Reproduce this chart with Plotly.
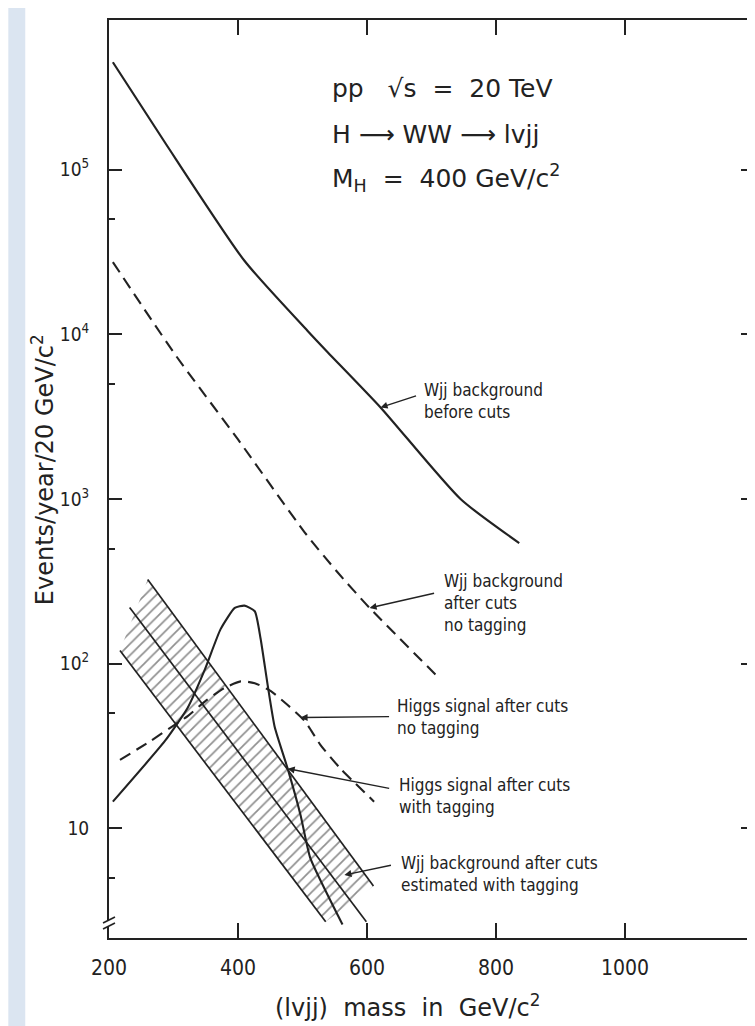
import math
import plotly.graph_objects as go

# ---------------- data ----------------
bg_before_x = [206, 287, 410, 508, 539, 621, 745, 836]
bg_before_y = [4.5e5, 1.46e5, 2.8e4, 1.05e4, 7.8e3, 3.6e3, 1.0e3, 540]

bg_notag_x = [206, 304, 400, 503, 554, 604, 714]
bg_notag_y = [2.75e4, 7.4e3, 2300, 630, 360, 218, 80]

higgs_tag_x = [206, 287, 322, 349, 373, 395, 410, 426, 435, 446, 457, 477, 497, 512, 562]
higgs_tag_y = [14.5, 34, 54, 93, 162, 218, 225, 208, 142, 74, 41, 23, 12, 6.6, 2.6]

higgs_notag_x = [217, 265, 296, 322, 349, 379, 404, 426, 451, 477, 503, 528, 559, 611]
higgs_notag_y = [26, 34, 41, 48, 59, 71, 78, 76, 68, 56, 45, 32, 23, 14.5]

band_low_x = [217, 536]      # lower/left edge of the tagged-background band
band_low_y = [120, 2.7]
band_high_x = [260, 610]     # upper/right edge
band_high_y = [324, 4.45]
band_mid_x = [232, 599]      # central estimate
band_mid_y = [219, 2.7]

x_ticks = [200, 400, 600, 800, 1000]
y_ticks = [10, 100, 1e3, 1e4, 1e5]
y_ticktext = ["10", "10<sup>2</sup>", "10<sup>3</sup>", "10<sup>4</sup>", "10<sup>5</sup>"]
y_minor = [5, 50, 500, 5e3, 5e4]

# ---------------- style ----------------
INK = "#222222"
W, H = 755, 1026
L, R, T, B = 101, 7, 12, 96
PW, PH = W - L - R, H - T - B
FONT_S = "DejaVu Sans Condensed, sans-serif"
FONT_B = "DejaVu Sans, sans-serif"


def px(xp):
    return (xp - L) / PW


def py(yp):
    return (H - B - yp) / PH


fig = go.Figure()

# hatched band
poly_x = band_low_x + band_high_x[::-1]
poly_y = band_low_y + band_high_y[::-1]
fig.add_trace(go.Scatter(x=poly_x, y=poly_y, fill="toself", mode="none",
                         fillpattern=dict(shape="/", size=8, solidity=0.22,
                                          fgcolor=INK, bgcolor="white"),
                         hoverinfo="skip", showlegend=False))
for xs, ys in [(band_low_x, band_low_y), (band_high_x, band_high_y), (band_mid_x, band_mid_y)]:
    fig.add_trace(go.Scatter(x=xs, y=ys, mode="lines",
                             line=dict(color=INK, width=1.7), showlegend=False))

fig.add_trace(go.Scatter(x=bg_before_x, y=bg_before_y, mode="lines",
                         line=dict(color=INK, width=2.2, shape="spline", smoothing=0.6),
                         showlegend=False))
fig.add_trace(go.Scatter(x=bg_notag_x, y=bg_notag_y, mode="lines",
                         line=dict(color=INK, width=2.1, dash="12px,7px", shape="spline", smoothing=0.6),
                         showlegend=False))
fig.add_trace(go.Scatter(x=higgs_tag_x, y=higgs_tag_y, mode="lines",
                         line=dict(color=INK, width=2.1, shape="spline", smoothing=0.5),
                         showlegend=False))
fig.add_trace(go.Scatter(x=higgs_notag_x, y=higgs_notag_y, mode="lines",
                         line=dict(color=INK, width=2.1, dash="12px,7px", shape="spline", smoothing=0.6),
                         showlegend=False))

annotations = []
labels = [
    (415, 370, "Wjj background<br>before cuts"),
    (435, 561, "Wjj background<br>after cuts<br>no tagging"),
    (388, 686, "Higgs signal after cuts<br>no tagging"),
    (390, 765, "Higgs signal after cuts<br>with tagging"),
    (392, 843, "Wjj background after cuts<br>estimated with tagging"),
]
for xp, yp, txt in labels:
    annotations.append(dict(x=px(xp), y=py(yp), xref="paper", yref="paper", text=txt,
                            showarrow=False, xanchor="left", yanchor="top", align="left",
                            font=dict(family=FONT_S, size=17, color=INK)))
arrows = [
    (621, 3600, 37, -12),
    (604, 218, 66, -15),
    (497, 47, 90, -1),
    (477, 23, 103, 20),
    (565, 5.2, 48, -10),
]
for xd, yd, ax, ay in arrows:
    annotations.append(dict(x=xd, y=math.log10(yd), xref="x", yref="y", text="",
                            showarrow=True, ax=ax, ay=ay, arrowhead=2, arrowsize=1.0,
                            arrowwidth=1.4, arrowcolor=INK, standoff=0))
header = [
    (323, 80, "pp   √s  =  20 TeV"),
    (323, 126, "H ⟶ WW ⟶ lvjj"),
    (323, 170, "M<sub>H</sub>  =  400 GeV/c<sup>2</sup>"),
]
for xp, yp, txt in header:
    annotations.append(dict(x=px(xp), y=py(yp), xref="paper", yref="paper", text=txt,
                            showarrow=False, xanchor="left", yanchor="middle",
                            font=dict(family=FONT_B, size=25, color=INK)))
annotations.append(dict(x=px(35), y=py(462), xref="paper", yref="paper",
                        xanchor="center", yanchor="middle",
                        text="Events/year/20 GeV/c<sup>2</sup>", textangle=-90, showarrow=False,
                        font=dict(family=FONT_B, size=24, color=INK)))
annotations.append(dict(x=px(400), y=py(998), xref="paper", yref="paper",
                        xanchor="center", yanchor="middle",
                        text="(lvjj)  mass  in  GeV/c<sup>2</sup>", showarrow=False,
                        font=dict(family=FONT_B, size=24, color=INK)))

shapes = [
    dict(type="rect", xref="paper", yref="paper", x0=px(0), x1=px(17), y0=py(H), y1=py(0),
         fillcolor="#dbe5f1", line=dict(width=0), layer="below"),
]
for xa in (0.0, 1.0):
    shapes.append(dict(type="rect", xref="paper", yref="paper",
                       x0=xa - 4 / PW, x1=xa + 4 / PW, y0=py(918), y1=py(912),
                       fillcolor="white", line=dict(width=0)))
    for off in (0, 6):
        shapes.append(dict(type="line", xref="paper", yref="paper",
                           x0=xa - 6 / PW, x1=xa + 6 / PW,
                           y0=py(921 - off), y1=py(915 - off),
                           line=dict(color=INK, width=1.6)))

fig.update_layout(
    width=W, height=H, margin=dict(l=L, r=R, t=T, b=B),
    paper_bgcolor="white", plot_bgcolor="white",
    annotations=annotations, shapes=shapes, showlegend=False,
    font=dict(family=FONT_S, color=INK),
)
fig.update_xaxes(range=[200, 1200], tickvals=x_ticks, ticks="inside", ticklen=15,
                 tickwidth=1.8, tickcolor=INK, showline=True, linewidth=2, linecolor=INK,
                 mirror="ticks", showgrid=False, zeroline=False,
                 tickfont=dict(family=FONT_S, size=21, color=INK), ticklabelstandoff=10)
fig.update_yaxes(type="log", range=[0.333, 5.91], tickvals=y_ticks, ticktext=y_ticktext,
                 ticks="inside", ticklen=13, tickwidth=1.8, tickcolor=INK,
                 showline=True, linewidth=2, linecolor=INK, mirror="ticks",
                 showgrid=False, zeroline=False,
                 minor=dict(tickvals=y_minor, ticks="inside", ticklen=6, tickwidth=1.6,
                            tickcolor=INK, showgrid=False),
                 tickfont=dict(family=FONT_S, size=19, color=INK), ticklabelstandoff=14)

fig.write_html("out.html")
